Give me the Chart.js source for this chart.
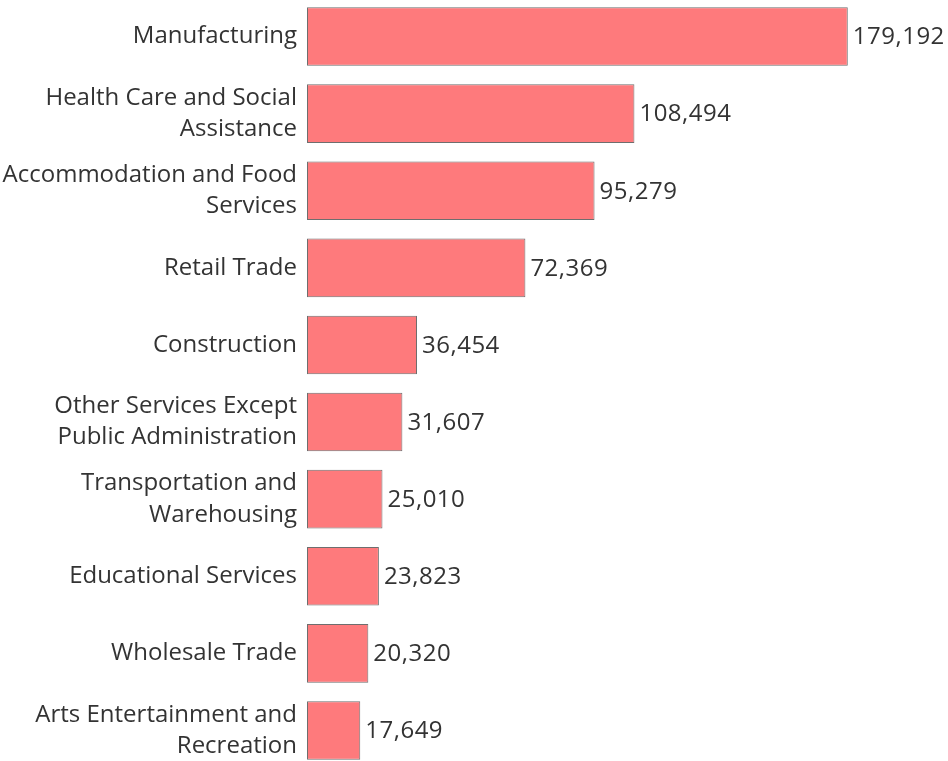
<!DOCTYPE html>
<html>
<head>
<meta charset="utf-8">
<script src="https://cdn.jsdelivr.net/npm/chart.js@4/dist/chart.umd.min.js"></script>
<style>
  html, body { margin: 0; padding: 0; background: #ffffff; overflow: hidden; }
  #wrap { position: absolute; left: 0; top: -2px; width: 948px; height: 771px; }
</style>
</head>
<body>
<div id="wrap"><canvas id="chart"></canvas></div>
<script>
// Industries (multi-line labels as arrays)
const industries = [
  'Manufacturing',
  ['Health Care and Social', 'Assistance'],
  ['Accommodation and Food', 'Services'],
  'Retail Trade',
  'Construction',
  ['Other Services Except', 'Public Administration'],
  ['Transportation and', 'Warehousing'],
  'Educational Services',
  'Wholesale Trade',
  ['Arts Entertainment and', 'Recreation']
];

// Employment per industry
const employees = [179192, 108494, 95279, 72369, 36454, 31607, 25010, 23823, 20320, 17649];

const FONT = "'Open Sans', 'Noto Sans', sans-serif";
const TEXT = '#333333';

// Writes each bar's value just past its end
const valueLabels = {
  id: 'valueLabels',
  afterDatasetsDraw(chart) {
    const ctx = chart.ctx;
    const meta = chart.getDatasetMeta(0);
    ctx.save();
    ctx.font = '24px ' + FONT;
    if ('letterSpacing' in ctx) ctx.letterSpacing = '0.5px';
    ctx.fillStyle = TEXT;
    ctx.textAlign = 'left';
    ctx.textBaseline = 'middle';
    meta.data.forEach((bar, i) => {
      ctx.fillText(employees[i].toLocaleString('en-US'), bar.x + 5, bar.y + 1);
    });
    ctx.restore();
  }
};

new Chart(document.getElementById('chart'), {
  type: 'bar',
  data: {
    labels: industries,
    datasets: [{
      data: employees,
      backgroundColor: 'rgb(254,122,124)',
      borderColor: '#6e6e6e',
      borderWidth: 1,
      borderSkipped: false,
      barPercentage: 0.76,
      categoryPercentage: 1.0
    }]
  },
  options: {
    indexAxis: 'y',
    responsive: true,
    maintainAspectRatio: false,
    animation: false,
    layout: { padding: 0 },
    plugins: {
      legend: { display: false },
      tooltip: { enabled: false }
    },
    scales: {
      x: {
        display: false,
        min: 0,
        max: 212400
      },
      y: {
        grid: { display: false, drawTicks: false },
        border: { display: false },
        ticks: {
          color: TEXT,
          padding: 10,
          font: { family: FONT, size: 24, lineHeight: 1.3 }
        },
        afterFit(scale) {
          // fixed label column; let the bands use the full height
          scale.width = 307;
          scale.paddingTop = 0;
          scale.paddingBottom = 0;
        }
      }
    }
  },
  plugins: [valueLabels]
});
</script>
</body>
</html>
